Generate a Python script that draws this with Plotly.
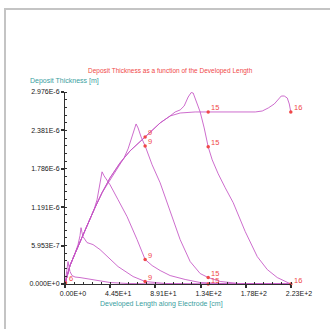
import plotly.graph_objects as go

# ---- data (x in cm, y in micrometres -> scaled to metres when plotted) ----
xA = [0, 0.99, 1.97, 2.96, 3.95, 4.93, 6.90, 9.86, 14.79, 27.62, 44.38, 61.15, 93.70, 222.4]
yA = [0, 0.131, 0.255, 0.348, 0.271, 0.193, 0.131, 0.108, 0.100, 0.070, 0.023, 0.008, 0, 0]

xB = [0, 1.97, 4.93, 9.86, 12.82, 14.79, 15.78, 16.77, 17.75, 21.70, 27.62, 34.52, 41.42, 52.27, 67.07, 78.90, 98.63, 133.15, 222.4]
yB = [0, 0.131, 0.286, 0.472, 0.611, 0.750, 0.873, 0.796, 0.734, 0.642, 0.611, 0.533, 0.425, 0.270, 0.116, 0.039, 0.008, 0, 0]

xC = [0, 1.97, 4.93, 9.86, 14.79, 21.70, 28.60, 31.56, 34.52, 36.49, 38.46, 44.38, 52.27, 61.15, 71.01, 78.90, 85.81, 93.70, 103.56, 118.35, 133.15, 162.74, 222.4]
yC = [0, 0.131, 0.286, 0.472, 0.657, 0.904, 1.152, 1.306, 1.538, 1.739, 1.677, 1.538, 1.306, 1.044, 0.688, 0.380, 0.286, 0.209, 0.131, 0.070, 0.023, 0, 0]

xD = [0, 1.97, 4.93, 9.86, 14.79, 21.70, 28.60, 36.49, 44.38, 52.27, 58.19, 62.14, 66.08, 68.05, 70.02, 71.99, 74.95, 78.90, 85.81, 93.70, 103.56, 113.42, 123.28, 133.15, 141.04, 152.87, 172.60, 222.4]
yD = [0, 0.131, 0.286, 0.472, 0.657, 0.904, 1.152, 1.415, 1.615, 1.817, 1.956, 2.095, 2.280, 2.404, 2.481, 2.419, 2.280, 2.141, 1.848, 1.569, 1.121, 0.688, 0.348, 0.162, 0.100, 0.039, 0.005, 0]

xE = [0, 1.97, 4.93, 9.86, 14.79, 21.70, 28.60, 36.49, 44.38, 54.24, 64.11, 78.90, 93.70, 103.56, 108.49, 113.42, 117.37, 121.31, 124.26, 126.24, 130.19, 133.15, 137.09, 141.04, 144.98, 150.90, 157.80, 165.69, 177.53, 189.36, 199.23, 209.09, 222.4]
yE = [0, 0.131, 0.286, 0.472, 0.657, 0.904, 1.152, 1.415, 1.646, 1.878, 2.064, 2.280, 2.497, 2.605, 2.667, 2.698, 2.760, 2.899, 2.968, 2.961, 2.790, 2.667, 2.420, 2.126, 1.925, 1.708, 1.492, 1.260, 0.812, 0.425, 0.224, 0.100, 0]

xF = [0, 1.97, 4.93, 9.86, 14.79, 21.70, 28.60, 36.49, 44.38, 54.24, 64.11, 78.90, 93.70, 103.56, 113.42, 128.22, 187.39, 194.29, 200.21, 206.13, 210.07, 213.03, 215.99, 218.95, 220.92, 222.40]
yF = [0, 0.131, 0.286, 0.472, 0.657, 0.904, 1.152, 1.415, 1.646, 1.878, 2.064, 2.280, 2.497, 2.605, 2.651, 2.667, 2.667, 2.682, 2.729, 2.791, 2.868, 2.914, 2.914, 2.883, 2.791, 2.667]

mark_x = [0.5, 78.90, 78.90, 78.90, 78.90, 141.04, 141.04, 141.04, 141.04, 222.4, 222.4]
mark_y = [0.02, 2.280, 2.141, 0.380, 0.039, 2.667, 2.126, 0.100, 0.0, 2.667, 0.0]
mark_text = ["6", "9", "9", "9", "9", "15", "15", "15", "15", "16", "16"]

x_tickvals = [0, 44.52, 89.04, 133.56, 178.08, 222.6]
x_ticktext = ["0.00E+0", "4.45E+1", "8.91E+1", "1.34E+2", "1.78E+2", "2.23E+2"]
y_tickvals = [0, 5.953e-7, 1.1906e-6, 1.7859e-6, 2.3812e-6, 2.9765e-6]
y_ticktext = ["0.000E+0", "5.953E-7", "1.191E-6", "1.786E-6", "2.381E-6", "2.976E-6"]

title_text = "Deposit Thickness as a function of the Developed Length"
ytitle_text = "Deposit Thickness [m]"
xtitle_text = "Developed Length along Electrode [cm]"

LINE = "rgba(196,84,196,0.85)"
RED = "#f04848"
TEAL = "#3aa0a0"
FONT = "Liberation Sans"

fig = go.Figure()
for xs, ys in [(xA, yA), (xB, yB), (xC, yC), (xD, yD), (xE, yE), (xF, yF)]:
    fig.add_trace(go.Scatter(x=xs, y=[v * 1e-6 for v in ys], mode="lines",
                             line=dict(color=LINE, width=1), showlegend=False,
                             hoverinfo="skip"))

fig.add_trace(go.Scatter(x=mark_x, y=[v * 1e-6 for v in mark_y], mode="markers",
                         marker=dict(color=RED, size=3.5, symbol="circle"),
                         cliponaxis=False, showlegend=False, hoverinfo="skip"))

for mx, my, mt in zip(mark_x, mark_y, mark_text):
    fig.add_annotation(x=mx, y=my * 1e-6, xref="x", yref="y", text=mt, showarrow=False,
                       xanchor="left", yanchor="middle", xshift=1, yshift=4,
                       font=dict(family=FONT, size=7.5, color=RED))

axis_common = dict(showline=True, linecolor="#303030", linewidth=1, showgrid=False,
                   zeroline=False, ticks="outside", ticklen=3, tickwidth=2,
                   tickcolor="#303030", tickfont=dict(family=FONT, size=7, color="#202020"))

fig.update_xaxes(range=[0, 222.6], tickmode="array", tickvals=x_tickvals, ticktext=x_ticktext,
                 ticklabelshift=8,
                 minor=dict(ticks="inside", ticklen=2, tickwidth=1, tickcolor="#303030",
                            tick0=0, dtick=8.904),
                 **axis_common)
fig.update_yaxes(range=[0, 2.9765e-6], tickmode="array", tickvals=y_tickvals, ticktext=y_ticktext,
                 minor=dict(ticks="inside", ticklen=2, tickwidth=1, tickcolor="#303030",
                            tick0=0, dtick=1.1906e-7),
                 **axis_common)

L, R, T, B = 65, 39, 92, 45
W, H = 330, 329
pw, ph = W - L - R, H - T - B

def px(x):
    return (x - L) / pw

def py(y):
    return (H - B - y) / ph

fig.add_annotation(text=title_text, xref="paper", yref="paper", x=px(170), y=py(70.7),
                   xanchor="center", yanchor="middle", showarrow=False,
                   font=dict(family=FONT, size=6.5, color=RED))
fig.add_annotation(text=ytitle_text, xref="paper", yref="paper", x=px(28), y=py(81),
                   xanchor="left", yanchor="middle", showarrow=False,
                   font=dict(family=FONT, size=7, color=TEAL))
fig.add_annotation(text=xtitle_text, xref="paper", yref="paper", x=px(161), y=py(304),
                   xanchor="center", yanchor="middle", showarrow=False,
                   font=dict(family=FONT, size=7, color=TEAL))

# window frame
fig.add_shape(type="line", xref="paper", yref="paper", x0=px(5), x1=px(5), y0=py(9), y1=py(340),
              line=dict(color="#c4c4c4", width=2))
fig.add_shape(type="line", xref="paper", yref="paper", x0=px(4), x1=px(340), y0=py(9), y1=py(9),
              line=dict(color="#c4c4c4", width=2))

fig.update_layout(width=W, height=H, autosize=False,
                  margin=dict(l=L, r=R, t=T, b=B, pad=0),
                  paper_bgcolor="white", plot_bgcolor="white",
                  font=dict(family=FONT))

fig.write_html("out.html")
